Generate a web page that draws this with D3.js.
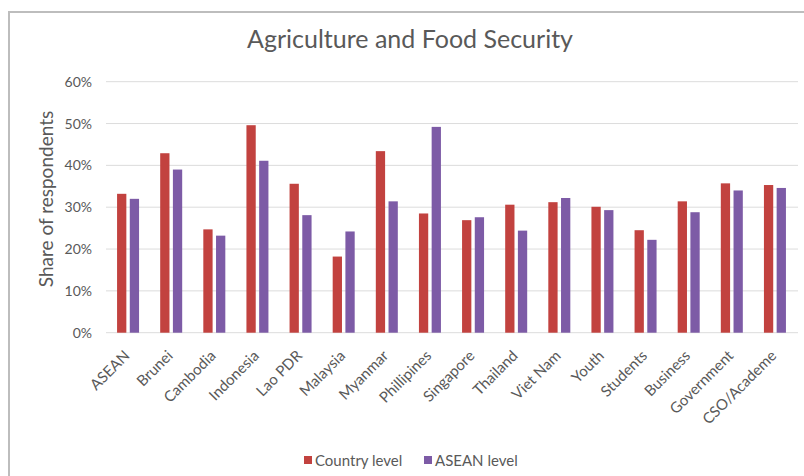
<!DOCTYPE html>
<html>
<head>
<meta charset="utf-8">
<script src="https://cdn.jsdelivr.net/npm/d3@7"></script>
<style>
  body { margin: 0; background: #fff; }
  svg { display: block; }
  text { font-family: Lato, "Open Sans", sans-serif; fill: #595959; }
</style>
</head>
<body>
<svg id="chart" width="804" height="476"></svg>
<script>
// Survey groups along the x axis
const categories = ["ASEAN", "Brunei", "Cambodia", "Indonesia", "Lao PDR", "Malaysia", "Myanmar",
  "Phillipines", "Singapore", "Thailand", "Viet Nam", "Youth", "Students", "Business",
  "Government", "CSO/Academe"];
// Share of respondents (%) per series
const countryLevel = [33.2, 42.9, 24.7, 49.6, 35.6, 18.2, 43.4, 28.5, 26.9, 30.6, 31.2, 30.1, 24.5, 31.4, 35.7, 35.3];
const aseanLevel   = [32.0, 39.0, 23.2, 41.1, 28.1, 24.2, 31.4, 49.2, 27.6, 24.4, 32.2, 29.3, 22.2, 28.8, 34.0, 34.6];
const seriesNames = ["Country level", "ASEAN level"];
const yTicks = [0, 10, 20, 30, 40, 50, 60];

const colors = ["#c2423f", "#7d5ba6"];
const svg = d3.select("#chart");

// chart frame
svg.append("path")
  .attr("d", "M9,476 V12 H804")
  .attr("fill", "none").attr("stroke", "#bdbdbd").attr("stroke-width", 2);

const margin = { left: 106, right: 796, top: 81.7, bottom: 332.7 };

const x = d3.scaleBand().domain(categories).range([margin.left, margin.right]).paddingInner(0).paddingOuter(0);
const y = d3.scaleLinear().domain([0, 60]).range([margin.bottom, margin.top]);
const x1 = d3.scaleBand().domain(seriesNames).range([x.bandwidth() / 2 - 10.5, x.bandwidth() / 2 + 11.5]).paddingInner(0.27);

// title
svg.append("text")
  .attr("x", 410).attr("y", 48)
  .attr("text-anchor", "middle")
  .style("font-size", "25px")
  .text("Agriculture and Food Security");

// gridlines
svg.append("g").selectAll("line").data(yTicks).join("line")
  .attr("x1", margin.left).attr("x2", margin.right + 2)
  .attr("y1", d => y(d)).attr("y2", d => y(d))
  .attr("stroke", "#dcdcdc").attr("stroke-width", 1);

// y axis labels
const yAxis = d3.axisLeft(y).tickValues(yTicks).tickFormat(d => d + "%").tickSize(0).tickPadding(14);
const gy = svg.append("g").attr("transform", `translate(${margin.left},0)`).call(yAxis);
gy.select(".domain").remove();
gy.selectAll("text").style("font-size", "14px").style("font-family", "Lato, sans-serif").attr("fill", "#595959");

// y axis title
svg.append("text")
  .attr("transform", "translate(53,199) rotate(-90)")
  .attr("text-anchor", "middle")
  .style("font-size", "19px")
  .text("Share of respondents");

// bars
const data = categories.map((c, i) => ({ cat: c, vals: [countryLevel[i], aseanLevel[i]] }));
const groups = svg.append("g").selectAll("g").data(data).join("g")
  .attr("transform", d => `translate(${x(d.cat)},0)`);
groups.selectAll("rect").data(d => d.vals.map((v, k) => ({ v, k }))).join("rect")
  .attr("x", d => x1(seriesNames[d.k]))
  .attr("width", x1.bandwidth())
  .attr("y", d => y(d.v))
  .attr("height", d => y(0) - y(d.v))
  .attr("fill", d => colors[d.k]);

// x axis labels
const xAxis = d3.axisBottom(x).tickSize(0).tickPadding(0);
const gx = svg.append("g").attr("transform", `translate(0,${margin.bottom})`).call(xAxis);
gx.select(".domain").remove();
gx.selectAll("text")
  .style("font-size", "15px").style("font-family", "Lato, sans-serif").attr("fill", "#595959")
  .attr("text-anchor", "end")
  .attr("dy", "0")
  .attr("transform", "translate(3,24) rotate(-45)");

// legend
const legend = svg.append("g");
const legendItems = [{ name: seriesNames[0], x: 304 }, { name: seriesNames[1], x: 424 }];
legendItems.forEach((item, k) => {
  legend.append("rect").attr("x", item.x).attr("y", 456).attr("width", 8).attr("height", 8).attr("fill", colors[k]);
  legend.append("text").attr("x", item.x + 11).attr("y", 465.5)
    .style("font-size", "15px").text(item.name);
});
</script>
</body>
</html>
